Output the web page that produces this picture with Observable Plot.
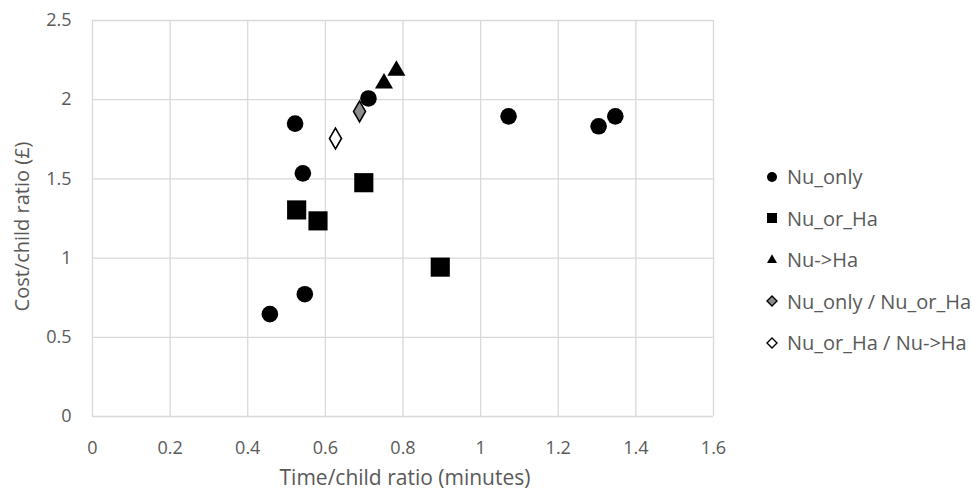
<!DOCTYPE html>
<html>
<head>
<meta charset="utf-8">
<script src="https://cdn.jsdelivr.net/npm/d3@7"></script>
<script src="https://cdn.jsdelivr.net/npm/@observablehq/plot@0.6"></script>
<style>
  html, body { margin: 0; padding: 0; background: #fff; }
  #wrap { position: relative; width: 973px; height: 493px; font-family: "Open Sans", sans-serif; color: #595959; }
  #chart { position: absolute; left: 0; top: 0; }
  #legend { position: absolute; left: 765px; top: 156px; }
  .row { display: flex; align-items: center; height: 41.5px; font-size: 20px; white-space: nowrap; }
  .row svg { width: 14px; height: 14px; margin-right: 8px; flex: none; }
</style>
</head>
<body>
<div id="wrap"><div id="chart"></div><div id="legend"></div></div>
<script>
// ---- data ----
const seriesNames = ["Nu_only", "Nu_or_Ha", "Nu->Ha", "Nu_only / Nu_or_Ha", "Nu_or_Ha / Nu->Ha"];
const nuOnlyX = [0.457, 0.547, 0.542, 0.522, 0.711, 1.072, 1.304, 1.347];
const nuOnlyY = [0.646, 0.772, 1.535, 1.849, 2.008, 1.895, 1.832, 1.895];
const nuOrHaX = [0.526, 0.581, 0.699, 0.896];
const nuOrHaY = [1.304, 1.235, 1.476, 0.943];
const nuToHaX = [0.751, 0.783];
const nuToHaY = [2.103, 2.184];
const onlyOrX = [0.688];
const onlyOrY = [1.926];
const orToX = [0.626];
const orToY = [1.755];
const xTicks = [0, 0.2, 0.4, 0.6, 0.8, 1, 1.2, 1.4, 1.6];
const yTicks = [0, 0.5, 1, 1.5, 2, 2.5];
const xTitle = "Time/child ratio (minutes)";
const yTitle = "Cost/child ratio (£)";

const rows = (xs, ys) => xs.map((x, i) => ({x, y: ys[i]}));

// ---- styles ----
const styles = [
  {symbol: "circle", fill: "#000", stroke: "none", r: 8.3, lsize: 10},
  {symbol: "square", fill: "#000", stroke: "none", r: 10.8, lsize: 10},
  {symbol: "triangle", fill: "#000", stroke: "none", r: 6.7, lsize: 10},
  {symbol: "diamond", fill: "#8c8c8c", stroke: "#000", r: 6.3, lsize: 10},
  {symbol: "diamond", fill: "#fff", stroke: "#000", r: 6.3, lsize: 10}
];
const datasets = [rows(nuOnlyX, nuOnlyY), rows(nuOrHaX, nuOrHaY), rows(nuToHaX, nuToHaY), rows(onlyOrX, onlyOrY), rows(orToX, orToY)];

const chart = Plot.plot({
  width: 740,
  height: 493,
  marginLeft: 92,
  marginRight: 27,
  marginTop: 20,
  marginBottom: 77,
  style: {fontFamily: "Open Sans, sans-serif", color: "#595959", background: "#fff"},
  x: {domain: [0, 1.6]},
  y: {domain: [0, 2.5]},
  marks: [
    Plot.gridX(xTicks, {stroke: "#d9d9d9", strokeOpacity: 1, strokeWidth: 1.3}),
    Plot.gridY(yTicks, {stroke: "#d9d9d9", strokeOpacity: 1, strokeWidth: 1.3}),
    Plot.axisX({ticks: xTicks, tickSize: 0, tickPadding: 25, label: null, fontSize: 18, fill: "#595959", tickFormat: d => String(d)}),
    Plot.axisY({ticks: yTicks, tickSize: 0, tickPadding: 21, label: null, fontSize: 18, fill: "#595959", tickFormat: d => String(d)}),
    Plot.text([xTitle], {frameAnchor: "bottom", lineAnchor: "middle", dy: 62, dx: 2, fontSize: 21, fill: "#595959", text: d => d}),
    Plot.text([yTitle], {frameAnchor: "left", textAnchor: "middle", lineAnchor: "middle", rotate: -90, dx: -70, dy: 8, fontSize: 20, fill: "#595959", text: d => d}),
    ...datasets.map((data, i) => Plot.dot(data, {
      x: "x", y: "y",
      symbol: () => styles[i].symbol,
      r: styles[i].r,
      fill: styles[i].fill,
      stroke: styles[i].stroke,
      strokeWidth: 1.6
    }))
  ]
});
document.getElementById("chart").appendChild(chart);

// ---- legend ----
const symMap = {circle: d3.symbolCircle, square: d3.symbolSquare2, triangle: d3.symbolTriangle2, diamond: d3.symbolDiamond2};
const sizeFor = (sym, w) => sym === "circle" ? Math.PI * (w / 2) ** 2
  : sym === "square" ? (w / 0.886) ** 2
  : sym === "triangle" ? (w / 1.182) ** 2
  : (w / 1.2525) ** 2;
const legend = d3.select("#legend");
seriesNames.forEach((name, i) => {
  const s = styles[i];
  const row = legend.append("div").attr("class", "row");
  const svg = row.append("svg").attr("viewBox", "-7 -7 14 14");
  svg.append("path")
    .attr("d", d3.symbol(symMap[s.symbol], sizeFor(s.symbol, s.lsize))())
    .attr("fill", s.fill)
    .attr("stroke", s.stroke)
    .attr("stroke-width", 1.4);
  row.append("span").text(name);
});
</script>
</body>
</html>
